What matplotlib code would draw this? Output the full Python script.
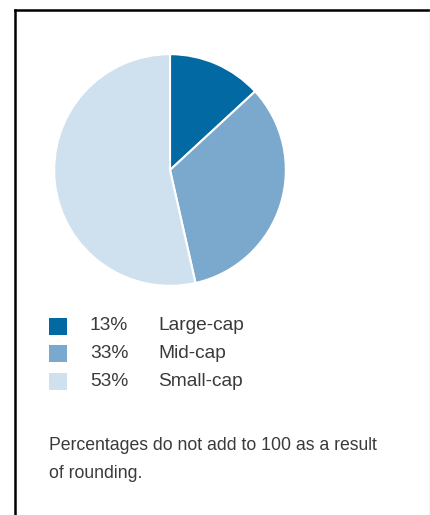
import matplotlib
matplotlib.use("Agg")
import matplotlib.pyplot as plt
from matplotlib.patches import Rectangle
from matplotlib.lines import Line2D

# market-cap split
labels = ["Large-cap", "Mid-cap", "Small-cap"]
shares = [13, 33, 53]
colors = ["#0369a3", "#7aa9cd", "#cfe1ef"]
note = "Percentages do not add to 100 as a result\nof rounding."

plt.rcParams['font.family'] = ['Liberation Sans', 'DejaVu Sans']

W, H = 431, 515
fig = plt.figure(figsize=(W / 100, H / 100), dpi=100)
fig.patch.set_facecolor("white")


def fx(px):
    return px / W


def fy(py):
    return 1 - py / H


# frame: heavy black on top and left, faint grey on the right
fig.add_artist(Line2D([fx(15), fx(15)], [fy(10), 0], color="black", lw=1.8,
                      transform=fig.transFigure))
fig.add_artist(Line2D([fx(15), fx(430)], [fy(10), fy(10)], color="black", lw=1.8,
                      transform=fig.transFigure))
fig.add_artist(Line2D([fx(430), fx(430)], [fy(10), 0], color="#cccccc", lw=1.0,
                      transform=fig.transFigure))

ax = fig.add_axes([fx(53), fy(287), fx(234), 234 / H])
ax.pie(shares, colors=colors, startangle=90, counterclock=False,
       wedgeprops=dict(edgecolor="white", linewidth=1.5))
ax.set_aspect("equal")
ax.set_xlim(-1.01, 1.01)
ax.set_ylim(-1.01, 1.01)
ax.axis("off")

# legend rows
row_y = [326, 353.5, 381]
for y, lab, val, c in zip(row_y, labels, shares, colors):
    fig.add_artist(Rectangle((fx(49), fy(y + 8.5)), fx(18), 17 / H, facecolor=c,
                             edgecolor="none", transform=fig.transFigure))
    fig.text(fx(90), fy(y), f"{val}%", fontsize=13.8, color="#3a3a3a",
             va="center", ha="left")
    fig.text(fx(158), fy(y), lab, fontsize=13.8, color="#3a3a3a",
             va="center", ha="left")

fig.text(fx(49), fy(437), note, fontsize=12.7, color="#3a3a3a",
         va="top", ha="left", linespacing=1.85)

fig.savefig("out.png", dpi=100)
